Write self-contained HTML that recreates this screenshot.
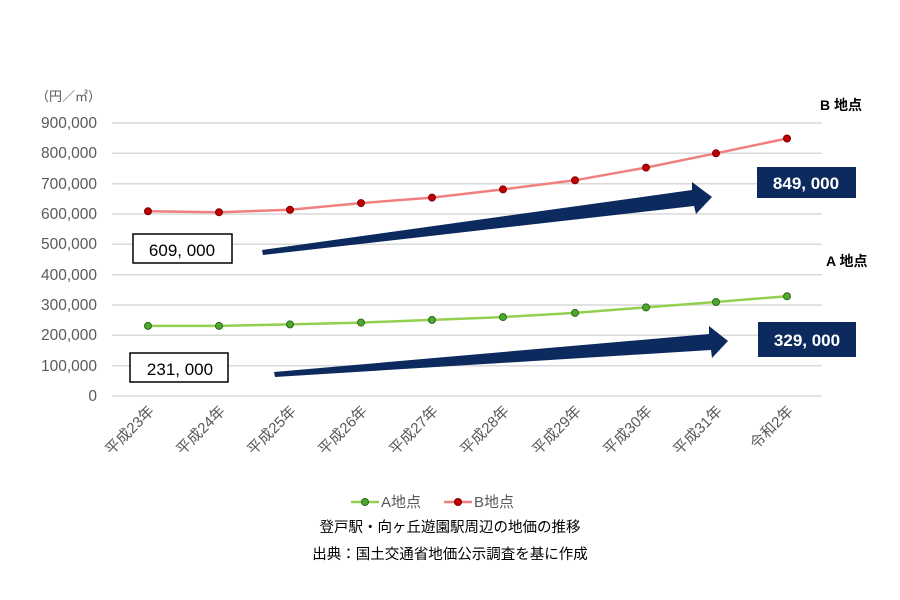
<!DOCTYPE html>
<html><head><meta charset="utf-8"><style>
body{margin:0;background:#fff;}
svg{display:block;}
text{font-family:"Liberation Sans","Noto Sans CJK JP",sans-serif;}
</style></head><body>
<svg width="900" height="600" viewBox="0 0 900 600" xmlns="http://www.w3.org/2000/svg">
<g stroke="#d9d9d9" stroke-width="1.5">
<line x1="112" y1="123" x2="822" y2="123"/><line x1="112" y1="153.3" x2="822" y2="153.3"/>
<line x1="112" y1="183.7" x2="822" y2="183.7"/><line x1="112" y1="214" x2="822" y2="214"/>
<line x1="112" y1="244.3" x2="822" y2="244.3"/><line x1="112" y1="274.7" x2="822" y2="274.7"/>
<line x1="112" y1="305" x2="822" y2="305"/><line x1="112" y1="335.3" x2="822" y2="335.3"/>
<line x1="112" y1="365.7" x2="822" y2="365.7"/><line x1="112" y1="396" x2="822" y2="396"/>
</g>
<g font-size="15.5" fill="#595959" text-anchor="end">
<text x="97" y="128">900,000</text><text x="97" y="158">800,000</text><text x="97" y="189">700,000</text>
<text x="97" y="219">600,000</text><text x="97" y="249">500,000</text><text x="97" y="280">400,000</text>
<text x="97" y="310">300,000</text><text x="97" y="340">200,000</text><text x="97" y="371">100,000</text>
<text x="97" y="401">0</text>
</g>
<text x="36" y="101" font-size="13" fill="#595959">（円／㎡）</text>
<g font-size="15" fill="#595959" text-anchor="end">
<text transform="translate(155,412) rotate(-45)">平成23年</text>
<text transform="translate(226,412) rotate(-45)">平成24年</text>
<text transform="translate(297,412) rotate(-45)">平成25年</text>
<text transform="translate(368,412) rotate(-45)">平成26年</text>
<text transform="translate(439,412) rotate(-45)">平成27年</text>
<text transform="translate(510,412) rotate(-45)">平成28年</text>
<text transform="translate(582,412) rotate(-45)">平成29年</text>
<text transform="translate(653,412) rotate(-45)">平成30年</text>
<text transform="translate(723,412) rotate(-45)">平成31年</text>
<text transform="translate(794,412) rotate(-45)">令和2年</text>
</g>
<polyline fill="none" stroke="#f08080" stroke-width="2.5" points="148,211.3 219,212.2 290,209.8 361,203.1 432,197.6 503,189.4 575,180.3 646,167.6 716,153.3 787,138.5"/>
<g fill="#c00000" stroke="#800000" stroke-width="1">
<circle cx="148" cy="211.3" r="3.5"/><circle cx="219" cy="212.2" r="3.5"/><circle cx="290" cy="209.8" r="3.5"/>
<circle cx="361" cy="203.1" r="3.5"/><circle cx="432" cy="197.6" r="3.5"/><circle cx="503" cy="189.4" r="3.5"/>
<circle cx="575" cy="180.3" r="3.5"/><circle cx="646" cy="167.6" r="3.5"/><circle cx="716" cy="153.3" r="3.5"/>
<circle cx="787" cy="138.5" r="3.5"/></g>
<polyline fill="none" stroke="#92d050" stroke-width="2.5" points="148,325.9 219,325.9 290,324.4 361,322.6 432,319.9 503,317.1 575,312.9 646,307.4 716,302 787,296.2"/>
<g fill="#4ea72e" stroke="#2d6a1a" stroke-width="1">
<circle cx="148" cy="325.9" r="3.5"/><circle cx="219" cy="325.9" r="3.5"/><circle cx="290" cy="324.4" r="3.5"/>
<circle cx="361" cy="322.6" r="3.5"/><circle cx="432" cy="319.9" r="3.5"/><circle cx="503" cy="317.1" r="3.5"/>
<circle cx="575" cy="312.9" r="3.5"/><circle cx="646" cy="307.4" r="3.5"/><circle cx="716" cy="302" r="3.5"/>
<circle cx="787" cy="296.2" r="3.5"/></g>
<polygon fill="#0d2a5e" points="262,250 692,190 692,182 712,197 696,214 694,206 263,255"/>
<polygon fill="#0d2a5e" points="274,372 709,334 709,326 728,341 712,358 711,350 275,377"/>
<rect x="133" y="234" width="99" height="29" fill="#fff" stroke="#000" stroke-width="1.5"/>
<text x="182" y="256" font-size="17" text-anchor="middle">609, 000</text>
<rect x="130" y="353" width="98" height="29" fill="#fff" stroke="#000" stroke-width="1.5"/>
<text x="180" y="375" font-size="17" text-anchor="middle">231, 000</text>
<rect x="757" y="167" width="99" height="31" fill="#0d2a5e"/>
<text x="806" y="189" font-size="17" font-weight="bold" fill="#fff" text-anchor="middle">849, 000</text>
<rect x="758" y="322" width="98" height="35" fill="#0d2a5e"/>
<text x="807" y="346" font-size="17" font-weight="bold" fill="#fff" text-anchor="middle">329, 000</text>
<text x="820" y="110" font-size="14" font-weight="bold">B 地点</text>
<text x="826" y="266" font-size="14" font-weight="bold">A 地点</text>
<line x1="351" y1="502" x2="379" y2="502" stroke="#92d050" stroke-width="2.5"/>
<circle cx="365" cy="502" r="3.5" fill="#4ea72e" stroke="#2d6a1a"/>
<text x="381" y="507" font-size="15" fill="#595959">A地点</text>
<line x1="444" y1="502" x2="472" y2="502" stroke="#f08080" stroke-width="2.5"/>
<circle cx="458" cy="502" r="3.5" fill="#c00000" stroke="#800000"/>
<text x="474" y="507" font-size="15" fill="#595959">B地点</text>
<text x="450" y="532" font-size="14.5" text-anchor="middle">登戸駅・向ヶ丘遊園駅周辺の地価の推移</text>
<text x="450" y="559" font-size="14.5" text-anchor="middle">出典：国土交通省地価公示調査を基に作成</text>
</svg>
</body></html>
